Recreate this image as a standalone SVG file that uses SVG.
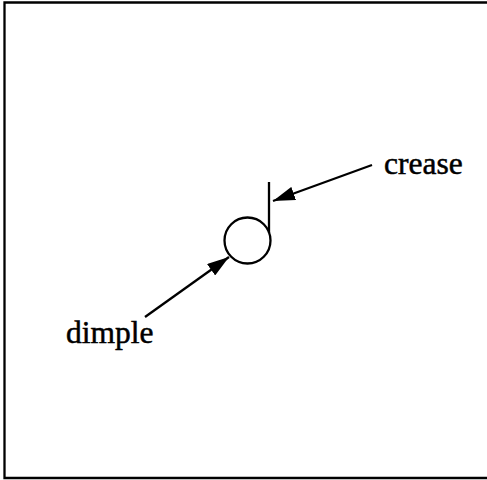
<svg xmlns="http://www.w3.org/2000/svg" width="487" height="480" viewBox="0 0 487 480">
<style>
.ln{stroke:#000;stroke-width:2.3;fill:none}
.lb{font-family:"Liberation Serif","Times New Roman",serif;font-size:31.5px;fill:#000;stroke:#000;stroke-width:0.5}
</style>
<defs>
<marker id="ah" markerWidth="22" markerHeight="14" refX="22" refY="7" orient="auto" markerUnits="userSpaceOnUse">
<path d="M0,0 L22,7 L0,14 Z" fill="#000"/>
</marker>
</defs>
<rect width="487" height="480" fill="#fff"/>
<path class="ln" d="M487,2.5 H4.5 V478 H487"/>
<g id="feature">
<circle class="ln" cx="247.5" cy="240.5" r="23"/>
<line class="ln" x1="269" y1="182" x2="269" y2="233"/>
</g>
<g id="crease">
<text class="lb" x="384" y="174">crease</text>
</g>
<g id="dimple">
<text class="lb" x="66" y="343">dimple</text>
</g>
<g id="connectors">
<line class="ln" x1="372" y1="165" x2="273" y2="201" marker-end="url(#ah)"/>
<line class="ln" x1="145" y1="317" x2="229" y2="257" marker-end="url(#ah)"/>
</g>
</svg>
